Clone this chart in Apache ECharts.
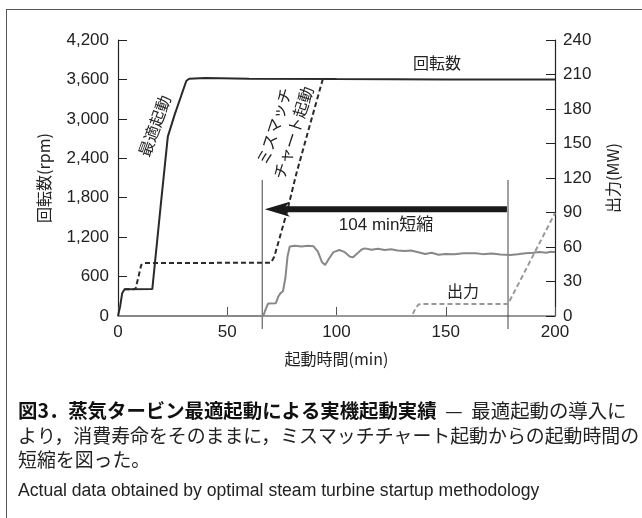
<!DOCTYPE html>
<html><head><meta charset="utf-8">
<script src="https://cdn.jsdelivr.net/npm/echarts@6/dist/echarts.min.js"></script>
<style>html,body{margin:0;padding:0;background:#fff}#c{width:642px;height:518px}</style>
</head><body><div id="c"></div>
<script>
// ---- data ----
const xTicks = [0, 50, 100, 150, 200];
const rpmTicks = [0, 600, 1200, 1800, 2400, 3000, 3600, 4200];
const mwTicks = [0, 30, 60, 90, 120, 150, 180, 210, 240];

// optimal startup speed (rpm)
const optX   = [0, 0.4, 1.0, 1.9, 3.0, 15.7, 19.6, 22.8, 25.9, 29.0, 31.3, 32.6, 35, 40, 60, 100, 150, 200];
const optRpm = [0, 30, 150, 345, 406, 410, 1700, 2730, 3060, 3360, 3580, 3610, 3615, 3620, 3612, 3605, 3600, 3600];

// mismatch chart startup speed (rpm)
const misX   = [3.0, 8.0, 9.4, 10.6, 12.0, 70.0, 71.5, 77.3, 81.5, 87.5, 93.7];
const misRpm = [406, 410, 600, 776, 805, 811, 900, 1580, 2150, 2870, 3600];

// optimal startup output (MW)
const actX  = [0, 66.5, 67.6, 68.7, 72.2, 73.4, 74.3, 75.5, 76.6, 77.6, 78.6, 81, 84, 87, 89.5, 91.5, 93.3, 94.8, 96.6, 98.6, 101.3, 103.8, 106.2, 107.6, 109.6, 111.5, 113, 116, 119, 122, 125, 128, 131.3, 134, 137, 140.6, 143.5, 146.7, 150, 154, 158, 163.7, 167, 171, 175, 179.5, 183, 186.5, 190, 193, 196, 198, 200];
const actMW = [0, 0, 6, 10.8, 11, 17, 19.7, 21.5, 33, 52, 60.5, 61, 60.5, 61, 60.6, 56, 47, 44.3, 50, 55.5, 57.4, 55.5, 51.5, 51, 54.5, 57.8, 58.8, 57.6, 58.5, 57.4, 58, 57, 56.5, 57, 55.6, 53.9, 55, 53.2, 54, 53.6, 54.5, 54.5, 53.8, 54.3, 53.5, 53, 53.6, 54.6, 55, 55.6, 55, 55.8, 55.6];

// mismatch chart startup output (MW)
const misOutX  = [66, 134.5, 136, 137.5, 139, 178.5, 200];
const misOutMW = [0, 0, 6, 10, 10.4, 10.4, 89.5];

// guide lines and arrow (data units)
const vLineX = [66, 178.5];
const vLineTopRpm = 2070;
const arrowFromX = 178;
const arrowToX = 67.2;
const arrowRpm = 1624;

// annotations
const labelText = ['最適起動', 'ミスマッチ\nチャート起動', '回転数', '出力', '104 min短縮'];
const labelX    = [17.4, 76.6, 146, 157.9, 122.7];
const labelRpm  = [2884, 2830, 3819, 358, 1385];
const labelAngle = [70, 72, 0, 0, 0];

const zip = (a, b) => a.map((v, i) => [v, b[i]]);

const chart = echarts.init(document.getElementById('c'), null, {renderer: 'canvas'});
const numFont = '"Liberation Sans", Arial, sans-serif';
const jpFont = '"Noto Sans CJK JP", sans-serif';

chart.setOption({
  backgroundColor: '#fff',
  animation: false,
  grid: {left: 118, right: 87, top: 40, bottom: 202, outerBoundsMode: 'none', containLabel: false},
  xAxis: {
    type: 'value', min: 0, max: 200, interval: 50,
    name: '起動時間(min)', nameLocation: 'middle', nameGap: 35,
    nameTextStyle: {fontSize: 16, color: '#222', fontFamily: jpFont},
    axisLine: {lineStyle: {color: '#777', width: 1.5}},
    axisTick: {inside: true, length: 9, lineStyle: {color: '#555'}},
    axisLabel: {fontSize: 17, color: '#222', margin: 8, fontFamily: numFont,
      customValues: xTicks},
    splitLine: {show: false}
  },
  yAxis: [{
    type: 'value', min: 0, max: 4200, interval: 600, position: 'left',
    name: '回転数(rpm)', nameLocation: 'middle', nameRotate: 90, nameGap: 66,
    nameTextStyle: {fontSize: 16, color: '#222', fontFamily: jpFont},
    axisLine: {show: true, lineStyle: {color: '#222', width: 1.2}},
    axisTick: {show: true, inside: true, length: 9, lineStyle: {color: '#222'}},
    axisLabel: {fontSize: 17, color: '#222', margin: 9, fontFamily: numFont,
      formatter: v => v.toLocaleString('en-US')},
    splitLine: {show: false}
  }, {
    type: 'value', min: 0, max: 240, interval: 30, position: 'right',
    name: '出力(MW)', nameLocation: 'middle', nameRotate: 90, nameGap: 50,
    nameTextStyle: {fontSize: 16, color: '#222', fontFamily: jpFont},
    axisLine: {show: true, lineStyle: {color: '#222', width: 1.2}},
    axisTick: {show: true, inside: true, length: 9, lineStyle: {color: '#222'}},
    axisLabel: {fontSize: 17, color: '#222', margin: 8, fontFamily: numFont},
    splitLine: {show: false}
  }],
  series: [
    {type: 'line', name: 'misOut', yAxisIndex: 1, data: zip(misOutX, misOutMW), symbol: 'none',
      lineStyle: {color: '#999', width: 2, type: [5, 3]}, z: 3},
    {type: 'line', name: 'actOut', yAxisIndex: 1, data: zip(actX, actMW), symbol: 'none',
      lineStyle: {color: '#888', width: 2}, z: 3},
    {type: 'line', name: 'misRpm', yAxisIndex: 0, data: zip(misX, misRpm), symbol: 'none',
      lineStyle: {color: '#2a2a2a', width: 2, type: [5, 3]}, z: 4},
    {type: 'line', name: 'optRpm', yAxisIndex: 0, data: zip(optX, optRpm), symbol: 'none',
      lineStyle: {color: '#2a2a2a', width: 2}, z: 5},
    {type: 'custom', name: 'vlines', yAxisIndex: 0, z: 2,
      data: vLineX.map(x => [x, vLineTopRpm]),
      renderItem: (params, api) => {
        const t = api.coord([api.value(0), api.value(1)]);
        const b = api.coord([api.value(0), 0]);
        return {type: 'line', shape: {x1: t[0], y1: t[1], x2: b[0], y2: b[1] + 13},
          style: {stroke: '#444', lineWidth: 1}};
      }},
    {type: 'custom', name: 'arrow', yAxisIndex: 0, z: 6,
      data: [[arrowFromX, arrowRpm, arrowToX]],
      renderItem: (params, api) => {
        const a = api.coord([api.value(0), api.value(1)]);
        const b = api.coord([api.value(2), api.value(1)]);
        const L = 25, H = 7.5, N = 4, S = 3;
        const y = b[1];
        return {type: 'polygon', shape: {points: [
          [b[0], y], [b[0] + L, y - H], [b[0] + L - N, y - S], [a[0], y - S],
          [a[0], y + S], [b[0] + L - N, y + S], [b[0] + L, y + H]]},
          style: {fill: '#1a1a1a'}};
      }},
    {type: 'custom', name: 'labels', yAxisIndex: 0, z: 7,
      data: labelX.map((x, i) => [x, labelRpm[i]]),
      renderItem: (params, api) => {
        const i = params.dataIndex;
        const p = api.coord([api.value(0), api.value(1)]);
        return {type: 'text', x: p[0], y: p[1], rotation: labelAngle[i] * Math.PI / 180,
          style: {text: labelText[i], fill: '#222', align: 'center', verticalAlign: 'middle',
            lineHeight: 20,
            font: (i === 4 ? '17px ' : '16px ') + '"Liberation Sans", "Noto Sans CJK JP", sans-serif'}};
      }}
  ],
  graphic: [
    {type: 'line', shape: {x1: 6, y1: 9.5, x2: 642, y2: 9.5}, style: {stroke: '#555', lineWidth: 1}},
    {type: 'line', shape: {x1: 6.5, y1: 9, x2: 6.5, y2: 518}, style: {stroke: '#555', lineWidth: 1}},
    {type: 'text', x: 18, y: 411, style: {
      text: '{b|図3．蒸気タービン最適起動による実機起動実績}{r|  —  最適起動の導入に}',
      verticalAlign: 'middle',
      rich: {b: {font: 'bold 19.4px "Noto Sans CJK JP"', fill: '#111'},
             r: {font: '19.4px "Noto Sans CJK JP"', fill: '#222'}}}},
    {type: 'text', x: 18, y: 436, style: {text: 'より，消費寿命をそのままに，ミスマッチチャート起動からの起動時間の',
      verticalAlign: 'middle', font: '18.9px "Noto Sans CJK JP"', fill: '#222'}},
    {type: 'text', x: 18, y: 460, style: {text: '短縮を図った。',
      verticalAlign: 'middle', font: '18.9px "Noto Sans CJK JP"', fill: '#222'}},
    {type: 'text', x: 18, y: 491, style: {text: 'Actual data obtained by optimal steam turbine startup methodology',
      verticalAlign: 'middle', font: '17.6px "Liberation Sans", Arial, sans-serif', fill: '#222'}}
  ]
});
</script></body></html>
